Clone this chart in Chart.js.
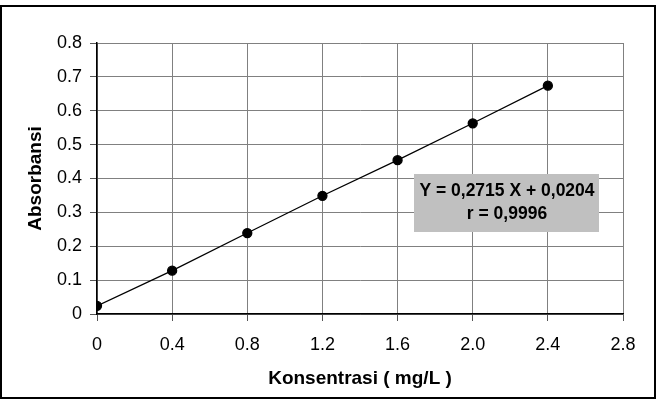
<!DOCTYPE html>
<html>
<head>
<meta charset="utf-8">
<script src="https://cdn.jsdelivr.net/npm/chart.js@4"></script>
<style>
  html, body { margin: 0; padding: 0; background: #fff; }
  #wrap { width: 658px; height: 402px; }
</style>
</head>
<body>
<div id="wrap"><canvas id="kurva"></canvas></div>
<script>
// data kurva kalibrasi
const konsentrasi = [0, 0.4, 0.8, 1.2, 1.6, 2.0, 2.4]
const absorbansi = [0.024, 0.128, 0.239, 0.349, 0.454, 0.563, 0.674]
const xTickLabels = ["0", "0.4", "0.8", "1.2", "1.6", "2.0", "2.4", "2.8"]
const yTickLabels = ["0", "0.1", "0.2", "0.3", "0.4", "0.5", "0.6", "0.7", "0.8"]
const persamaan = ["Y = 0,2715 X + 0,0204", "r = 0,9996"]

const titik = konsentrasi.map((x, i) => ({ x: x, y: absorbansi[i] }))
const FONT = "'Liberation Sans', Arial, sans-serif"

// bingkai luar + kotak persamaan
const hiasan = {
    id: "hiasan",
    beforeDraw(chart) {
        const ctx = chart.ctx
        ctx.save()
        ctx.fillStyle = "#fff"
        ctx.fillRect(0, 0, chart.width, chart.height)
        ctx.restore()
    },
    afterDraw(chart) {
        const ctx = chart.ctx
        ctx.save()
        ctx.strokeStyle = "#000"
        ctx.lineWidth = 2
        ctx.strokeRect(1, 6, 654, 392)

        ctx.fillStyle = "#c0c0c0"
        ctx.fillRect(414, 174, 185, 58)
        ctx.fillStyle = "#000"
        ctx.font = "bold 17.5px " + FONT
        ctx.textAlign = "center"
        ctx.textBaseline = "middle"
        ctx.fillText(persamaan[0], 507, 191)
        ctx.fillText(persamaan[1], 507, 214)
        ctx.restore()
    }
}

new Chart(document.getElementById("kurva"), {
    type: "scatter",
    data: {
        datasets: [{
            data: titik,
            showLine: true,
            borderColor: "#000",
            borderWidth: 1.3,
            backgroundColor: "#000",
            pointRadius: 4.5,
            pointHoverRadius: 4.5
        }]
    },
    options: {
        responsive: true,
        maintainAspectRatio: false,
        animation: false,
        events: [],
        layout: { padding: { left: 0, top: 43, right: 35, bottom: 0 } },
        plugins: {
            legend: { display: false },
            tooltip: { enabled: false }
        },
        scales: {
            x: {
                type: "linear",
                min: 0,
                max: 2.8,
                afterFit: (s) => { s.height = 88 },
                afterBuildTicks: (s) => { s.ticks = xTickLabels.map((t, i) => ({ value: i * 0.4 })) },
                ticks: {
                    color: "#000",
                    font: { family: FONT, size: 18 },
                    padding: 13,
                    maxRotation: 0,
                    callback: (v, i) => xTickLabels[i]
                },
                grid: { color: "#808080", lineWidth: 1, tickLength: 7, tickColor: "#555" },
                border: { color: "#000", width: 1.5 },
                title: {
                    display: true,
                    text: "Konsentrasi ( mg/L )",
                    color: "#000",
                    font: { family: FONT, size: 19, weight: "bold" },
                    padding: { top: 0, bottom: 12 }
                }
            },
            y: {
                type: "linear",
                min: 0,
                max: 0.8,
                afterFit: (s) => { s.width = 97 },
                afterBuildTicks: (s) => { s.ticks = yTickLabels.map((t, i) => ({ value: i * 0.1 })) },
                ticks: {
                    color: "#000",
                    font: { family: FONT, size: 18 },
                    padding: 8,
                    callback: (v, i) => yTickLabels[i]
                },
                grid: { color: "#808080", lineWidth: 1, tickLength: 7, tickColor: "#555" },
                border: { color: "#000", width: 1.5 },
                title: {
                    display: true,
                    text: "Absorbansi",
                    color: "#000",
                    font: { family: FONT, size: 19, weight: "bold" },
                    padding: { top: 24, bottom: 0 }
                }
            }
        }
    },
    plugins: [hiasan]
})
</script>
</body>
</html>
